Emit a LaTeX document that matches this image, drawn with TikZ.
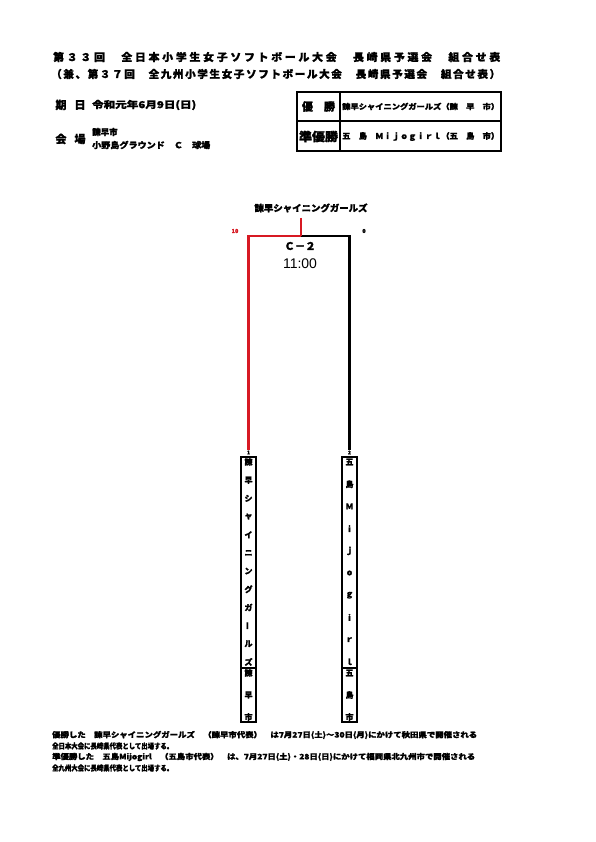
\documentclass[tikz,border=0pt]{standalone}
\usepackage{fontspec}
\usepackage{graphicx}
\newfontfamily\jp{Noto Sans CJK JP}[BoldFeatures={FakeBold=1.5}]
\newfontfamily\arl{Liberation Sans}
\definecolor{bred}{RGB}{215,25,35}
\newlength\fitlen
\newcommand\fitto[2]{\settowidth\fitlen{#2}\pgfmathsetmacro\fitr{#1/\fitlen}\scalebox{\fitr}[1]{#2}}
\begin{document}
\begin{tikzpicture}[x=1pt,y=-1pt,
  jt/.style={inner sep=0,font=\jp\bfseries},
  vc/.style={inner sep=0,font=\jp\bfseries\fontsize{8}{8}\selectfont},
  rl/.style={draw=bred,line width=2.4pt},
  bl/.style={draw=black,line width=2.4pt},
  tb/.style={line width=1.8pt},
  bx/.style={draw,line width=1.8pt,inner sep=0,minimum width=15pt,minimum height=265pt}]
\useasboundingbox[fill=white] (0,0) rectangle (595,842);
% titles
\node[jt,anchor=west] (t1) at (53,57) {\fontsize{10.5}{11}\selectfont\fitto{447}{\addfontfeature{LetterSpace=25}第３３回　全日本小学生女子ソフトボール大会　長崎県予選会　組合せ表}};
\node[jt,anchor=west] (t2) at (51,74) {\fontsize{10.5}{11}\selectfont\fitto{449}{\addfontfeature{LetterSpace=15}（兼、第３７回　全九州小学生女子ソフトボール大会　長崎県予選会　組合せ表）}};
% date / venue
\node[jt] (k1) at (61,105) {\fontsize{11}{11}\selectfont 期};
\node[jt] (k2) at (80,105) {\fontsize{11}{11}\selectfont 日};
\node[jt,anchor=west] (kd) at (92,105) {\fontsize{9.5}{10}\selectfont\fitto{104}{令和元年6月9日(日)}};
\node[jt] (v1) at (61,139) {\fontsize{11}{11}\selectfont 会};
\node[jt] (v2) at (80,139) {\fontsize{11}{11}\selectfont 場};
\node[jt,anchor=west] (v3) at (92,132) {\fontsize{8.5}{9}\selectfont 諫早市};
\node[jt,anchor=west] (v4) at (92,145) {\fontsize{8.5}{9}\selectfont\fitto{118}{小野島グラウンド　Ｃ　球場}};
% result table
\draw[tb] (297,92) rectangle (501,151);
\draw[tb] (297,121) -- (501,121);
\draw[tb] (340,92) -- (340,151);
\node[jt] (r1) at (318.5,106.5) {\fontsize{11}{11}\selectfont 優　勝};
\node[jt] (r2) at (318.5,136.5) {\fontsize{12}{12}\selectfont\fitto{39}{準優勝}};
\node[jt,anchor=west] (r3) at (342,106.5) {\fontsize{7.5}{8}\selectfont\fitto{157}{諫早シャイニングガールズ（諫　早　市）}};
\node[jt,anchor=west] (r4) at (342,136.5) {\fontsize{8}{8}\selectfont\fitto{157}{五　島　Ｍｉｊｏｇｉｒｌ（五　島　市）}};
% bracket
\node[jt] (w) at (311,208) {\fontsize{9}{9}\selectfont\fitto{113}{諫早シャイニングガールズ}};
\coordinate (s) at (301,218);
\coordinate (m) at (301,236);
\node[jt,text=bred] (sc1) at (235,231) {\fontsize{5.5}{6}\selectfont 10};
\node[jt] (sc2) at (364,231) {\fontsize{5.5}{6}\selectfont 0};
\node[jt] (g) at (300,246) {\fontsize{10.5}{11}\selectfont Ｃ－２};
\node[inner sep=0,font=\arl\fontsize{14}{14}\selectfont] (tm) at (300,264) {11:00};
\node[jt] (n1) at (248.5,452.5) {\fontsize{5}{5}\selectfont 1};
\node[jt] (n2) at (349.5,452.5) {\fontsize{5}{5}\selectfont 2};
\draw[bl] (m) -| (n2.north);
\draw[rl] (m) -| (n1.north);
\draw[rl] (s) -- (m);
% team boxes
\node[bx] (lb) at (248.5,589.5) {};
\node[bx] (rb) at (349.5,589.5) {};
\coordinate (dv) at (0,668);
\draw[line width=1.8pt] (lb.west |- dv) -- (lb.east |- dv);
\draw[line width=1.8pt] (rb.west |- dv) -- (rb.east |- dv);
\foreach \c [count=\i] in {諫,早,シ,ャ,イ,ニ,ン,グ,ガ,{\rotatebox{90}{ー}},ル,ズ}
  \node[vc] (la\i) at (248.5,{462+18.18*(\i-1)}) {\c};
\foreach \c [count=\i] in {五,島,Ｍ,ｉ,ｊ,ｏ,ｇ,ｉ,ｒ,ｌ}
  \node[vc] (ra\i) at (349.5,{462+22.2*(\i-1)}) {\c};
\foreach \c/\y [count=\i] in {諫/673,早/695,市/717}
  \node[vc] (lc\i) at (248.5,\y) {\c};
\foreach \c/\y [count=\i] in {五/673,島/695,市/717}
  \node[vc] (rc\i) at (349.5,\y) {\c};
% footer
\node[jt,anchor=west] (f1) at (52,735) {\fontsize{7.5}{8}\selectfont\fitto{425}{優勝した　諫早シャイニングガールズ　（諫早市代表）　は7月27日(土)～30日(月)にかけて秋田県で開催される}};
\node[jt,anchor=west] (f2) at (52,746) {\fontsize{7.5}{8}\selectfont\fitto{121}{全日本大会に長崎県代表として出場する。}};
\node[jt,anchor=west] (f3) at (52,757) {\fontsize{7.5}{8}\selectfont\fitto{423}{準優勝した　五島Mijogirl　（五島市代表）　は、7月27日(土)・28日(日)にかけて福岡県北九州市で開催される}};
\node[jt,anchor=west] (f4) at (52,768) {\fontsize{7.5}{8}\selectfont\fitto{121}{全九州大会に長崎県代表として出場する。}};
\end{tikzpicture}
\end{document}
